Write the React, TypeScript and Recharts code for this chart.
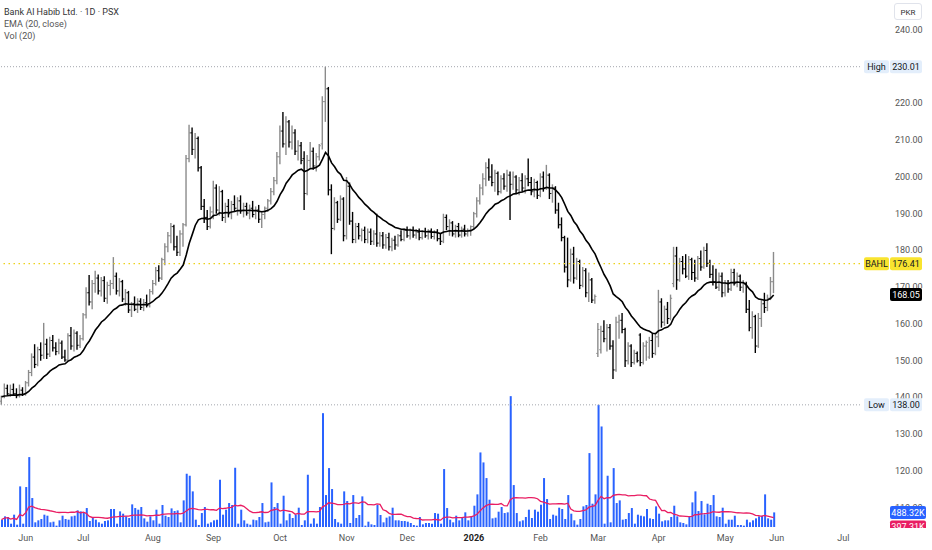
import React from "react";
import { ComposedChart, Bar, Line, XAxis, YAxis, ReferenceLine } from "recharts";

type Ohlc = [number, number, number, number]; // open, high, low, close

const FONT = "Roboto, 'Liberation Sans', sans-serif";

// daily bars, one array per month
const may25: Ohlc[] = [
  [139.0, 140.5, 138.0, 140.2], [140.2, 143.8, 139.8, 142.5], [142.5, 143.5, 140.5, 141.0], [141.0, 143.5, 140.2, 142.2],
  [142.2, 143.8, 140.5, 141.0], [141.0, 142.5, 139.8, 140.5], [140.5, 143.5, 140.0, 142.0], [142.0, 142.8, 140.4, 140.8],
];
const jun25: Ohlc[] = [
  [140.8, 144.5, 140.5, 144.0], [144.0, 147.5, 143.0, 146.8], [146.8, 152.0, 145.8, 151.0], [151.0, 154.5, 148.0, 149.0],
  [149.0, 153.8, 148.5, 153.0], [153.0, 155.0, 150.0, 151.5], [151.5, 160.3, 150.5, 154.5], [154.5, 156.0, 150.5, 151.8],
  [151.8, 156.5, 151.0, 155.5], [155.5, 157.0, 152.5, 153.5], [153.5, 155.0, 151.5, 152.5], [152.5, 156.0, 151.8, 154.8],
  [154.8, 155.5, 150.5, 151.0], [151.0, 153.0, 149.7, 150.2], [150.2, 157.5, 150.0, 156.8], [156.8, 159.2, 153.0, 154.0],
  [154.0, 158.5, 152.5, 157.5], [157.5, 158.0, 153.0, 154.2], [154.2, 157.0, 153.5, 156.0],
];
const jul25: Ohlc[] = [
  [156.0, 163.0, 155.5, 162.5], [162.5, 170.0, 161.5, 168.5], [168.5, 173.3, 165.0, 166.0], [166.0, 172.0, 164.0, 171.0],
  [171.0, 174.5, 168.5, 172.5], [172.5, 173.5, 168.0, 169.0], [169.0, 172.8, 167.5, 171.8], [171.8, 173.0, 166.0, 167.0],
  [167.0, 171.5, 165.5, 170.5], [170.5, 172.0, 167.8, 171.0], [171.0, 178.2, 169.5, 173.0], [173.0, 174.0, 168.0, 169.0],
  [169.0, 172.5, 167.5, 171.5], [171.5, 172.0, 166.0, 166.8], [166.8, 169.5, 165.0, 168.5], [168.5, 169.0, 163.0, 163.8],
  [163.8, 166.0, 161.9, 165.5], [165.5, 167.5, 163.5, 164.0], [164.0, 167.0, 163.0, 166.2], [166.2, 167.0, 163.8, 164.5],
  [164.5, 166.8, 163.5, 165.8], [165.8, 168.0, 164.5, 165.0], [165.0, 169.5, 164.5, 168.8],
];
const aug25: Ohlc[] = [
  [168.8, 172.0, 168.0, 171.0], [171.0, 175.5, 170.5, 174.5], [174.5, 176.0, 171.5, 172.5], [172.5, 178.0, 172.0, 177.5],
  [177.5, 182.0, 176.0, 181.0], [181.0, 185.0, 179.5, 184.0], [184.0, 187.5, 182.0, 186.5], [186.5, 187.0, 180.0, 181.0],
  [181.0, 184.0, 178.5, 179.5], [179.5, 185.5, 178.5, 184.5], [184.5, 187.5, 181.0, 187.0], [187.0, 206.0, 186.5, 205.0],
  [205.0, 214.2, 204.0, 212.0], [212.0, 213.5, 206.0, 207.5], [207.5, 212.0, 205.0, 210.5], [210.5, 211.0, 201.5, 202.5],
  [202.5, 203.0, 191.0, 192.0], [192.0, 194.0, 187.5, 189.0], [189.0, 191.0, 185.6, 186.5], [186.5, 192.0, 186.0, 190.5],
];
const sep25: Ohlc[] = [
  [190.5, 199.0, 188.5, 197.0], [197.0, 198.0, 190.0, 191.0], [191.0, 197.5, 189.5, 196.0], [196.0, 196.5, 188.0, 189.0],
  [189.0, 193.0, 187.5, 192.0], [192.0, 194.0, 189.0, 190.0], [190.0, 193.5, 188.5, 192.5], [192.5, 195.0, 190.5, 191.5],
  [191.5, 194.5, 189.5, 193.5], [193.5, 195.0, 190.0, 190.8], [190.8, 193.0, 189.0, 192.0], [192.0, 193.0, 189.5, 190.2],
  [190.2, 192.5, 188.5, 191.5], [191.5, 193.5, 189.0, 189.8], [189.8, 192.0, 188.5, 191.0], [191.0, 192.4, 187.5, 188.5],
  [188.5, 190.5, 186.1, 189.8], [189.8, 192.0, 188.5, 191.5], [191.5, 194.0, 190.5, 193.5], [193.5, 197.0, 192.5, 196.0],
  [196.0, 200.0, 195.0, 199.0], [199.0, 206.8, 198.0, 205.5],
];
const oct25: Ohlc[] = [
  [205.5, 214.0, 203.5, 212.5], [212.5, 217.7, 208.0, 209.0], [209.0, 216.5, 206.0, 215.0], [215.0, 215.5, 208.0, 209.5],
  [209.5, 214.0, 207.5, 212.0], [212.0, 213.0, 206.0, 207.0], [207.0, 210.0, 204.5, 208.5], [208.5, 209.5, 203.5, 204.5],
  [205.0, 207.0, 191.0, 195.5], [195.5, 206.0, 195.0, 204.5], [204.5, 209.5, 202.5, 207.0], [207.0, 208.0, 202.0, 203.0],
  [203.0, 206.5, 201.5, 205.5], [205.5, 209.0, 204.5, 208.5], [209.0, 222.0, 207.5, 220.5], [220.5, 230.01, 215.0, 224.0],
  [224.0, 224.5, 195.0, 196.5], [196.5, 198.0, 179.0, 186.0], [186.0, 194.5, 185.5, 193.0], [193.0, 193.5, 187.5, 188.5],
  [188.5, 195.0, 188.0, 194.0], [194.0, 194.5, 182.5, 184.0],
];
const nov25: Ohlc[] = [
  [184.0, 200.0, 183.0, 197.5], [197.5, 198.5, 187.0, 188.0], [188.0, 190.5, 182.0, 183.0], [183.0, 187.5, 182.0, 186.5],
  [186.5, 187.5, 183.0, 184.0], [184.0, 186.0, 182.5, 185.5], [185.5, 186.5, 182.0, 183.0], [183.0, 186.0, 182.0, 185.0],
  [185.0, 186.0, 181.5, 182.5], [182.5, 185.5, 181.5, 184.5], [184.5, 190.0, 181.0, 182.0], [182.0, 185.0, 181.0, 184.0],
  [184.0, 185.0, 180.5, 181.5], [181.5, 184.5, 180.5, 183.5], [183.5, 184.8, 180.0, 181.0], [181.0, 183.5, 179.8, 182.8],
  [182.8, 184.0, 180.2, 181.5], [181.5, 184.5, 181.0, 184.0], [184.0, 185.5, 182.5, 183.0], [183.0, 186.0, 182.5, 185.5],
];
const dec25: Ohlc[] = [
  [185.5, 186.5, 183.5, 184.0], [184.0, 186.0, 183.0, 185.5], [185.5, 186.5, 183.5, 184.2], [184.2, 185.8, 183.2, 185.0],
  [185.0, 186.0, 182.8, 183.5], [183.5, 185.5, 183.0, 185.2], [185.2, 186.2, 183.5, 184.0], [184.0, 185.8, 183.0, 185.3],
  [185.3, 186.0, 183.2, 183.8], [183.8, 185.5, 183.0, 185.0], [185.0, 185.8, 182.5, 183.2], [183.2, 184.5, 181.5, 182.5],
  [182.5, 190.0, 182.0, 189.0], [189.0, 189.8, 185.5, 186.5], [186.5, 188.5, 184.0, 187.5], [187.5, 188.0, 183.8, 184.5],
  [184.5, 187.0, 183.5, 186.5], [186.5, 187.5, 183.6, 184.2], [184.2, 186.5, 183.5, 185.8], [185.8, 187.0, 183.8, 184.5],
  [184.5, 186.0, 183.8, 185.5], [185.5, 186.8, 184.0, 186.5],
];
const jan26: Ohlc[] = [
  [186.5, 190.5, 186.0, 190.0], [190.0, 194.5, 189.0, 193.5], [193.5, 198.0, 192.5, 197.0], [197.0, 201.0, 195.0, 199.5],
  [199.5, 204.0, 197.5, 202.5], [202.5, 205.0, 199.0, 200.0], [200.0, 203.5, 197.5, 198.5], [198.5, 202.0, 196.0, 201.0],
  [201.0, 201.5, 195.0, 196.0], [196.0, 200.5, 195.5, 199.5], [199.5, 201.0, 196.5, 197.5], [197.5, 202.0, 196.0, 200.5],
  [200.5, 201.5, 188.3, 198.0], [198.0, 201.5, 196.5, 200.0], [200.0, 200.5, 195.5, 196.5], [196.5, 200.0, 195.0, 199.0],
  [199.0, 201.0, 196.0, 197.0], [197.0, 200.5, 195.5, 199.5], [199.5, 205.0, 197.5, 198.5], [198.5, 200.0, 195.0, 196.0],
  [196.0, 199.5, 194.5, 198.5], [198.5, 199.0, 194.0, 195.0],
];
const feb26: Ohlc[] = [
  [195.0, 201.0, 194.5, 200.0], [200.0, 201.5, 196.0, 197.0], [197.0, 203.3, 196.5, 200.5], [200.5, 201.0, 194.0, 195.5],
  [195.5, 198.0, 193.0, 197.0], [197.0, 197.5, 190.0, 191.0], [191.0, 193.0, 186.0, 187.0], [187.0, 189.0, 182.5, 183.5],
  [183.5, 184.0, 174.0, 175.5], [175.5, 183.5, 170.0, 172.0], [172.0, 180.5, 171.5, 179.0], [179.0, 181.0, 171.0, 172.5],
  [172.5, 178.0, 172.0, 177.0], [177.0, 177.5, 169.5, 170.5], [170.5, 175.5, 170.0, 174.5], [174.5, 175.2, 167.3, 168.5],
  [168.5, 174.0, 166.0, 172.0], [172.0, 172.5, 165.7, 166.5], [166.5, 168.0, 165.5, 167.5],
];
const mar26: Ohlc[] = [
  [152.0, 160.3, 151.0, 158.5], [153.0, 159.5, 152.0, 158.0], [158.0, 161.0, 155.0, 156.0], [156.0, 160.0, 152.5, 159.0],
  [159.0, 160.0, 153.0, 154.0], [154.0, 155.6, 145.0, 147.5], [147.5, 162.0, 147.0, 160.5], [160.5, 162.5, 156.0, 161.0],
  [161.0, 163.0, 157.5, 158.5], [158.5, 159.0, 148.3, 150.0], [150.0, 155.0, 149.0, 154.0], [154.0, 154.5, 148.3, 149.5],
  [149.5, 153.0, 149.0, 152.0], [152.0, 152.5, 149.5, 150.0], [157.0, 157.5, 148.5, 149.5], [149.5, 155.0, 149.0, 154.0],
  [154.0, 155.5, 150.0, 155.0], [151.0, 156.5, 150.5, 155.5], [155.5, 157.5, 150.8, 152.0], [152.0, 157.5, 151.5, 156.5],
];
const apr26: Ohlc[] = [
  [156.5, 169.3, 153.7, 166.0], [166.0, 167.0, 159.0, 160.5], [160.5, 165.0, 159.5, 164.0], [164.0, 166.0, 160.0, 161.5],
  [161.5, 168.0, 161.0, 167.0], [171.0, 181.0, 170.0, 178.5], [178.5, 181.0, 169.3, 172.0], [172.0, 178.0, 171.5, 177.0],
  [177.0, 178.5, 173.5, 175.0], [175.0, 179.0, 172.5, 173.0], [173.0, 178.5, 172.0, 177.5], [177.5, 178.0, 172.0, 174.0],
  [174.0, 177.5, 171.5, 172.5], [172.5, 178.5, 172.0, 177.8], [177.8, 180.0, 174.5, 175.5], [175.5, 181.0, 175.0, 180.0],
  [180.0, 182.0, 175.5, 176.5], [176.5, 177.5, 172.5, 173.5], [173.5, 176.0, 170.5, 171.5], [171.5, 175.0, 169.5, 170.0],
  [170.0, 174.0, 169.0, 173.0], [173.0, 174.0, 167.3, 168.5],
];
const may26: Ohlc[] = [
  [168.5, 172.0, 167.5, 171.0], [171.0, 172.0, 168.5, 169.5], [169.5, 175.0, 169.0, 174.0], [174.0, 175.0, 170.5, 171.0],
  [171.0, 174.0, 170.0, 173.0], [173.0, 173.5, 169.0, 170.0], [170.0, 172.0, 168.5, 171.0], [171.0, 171.5, 163.0, 164.0],
  [164.0, 166.5, 158.0, 159.0], [159.0, 163.5, 156.0, 162.0], [162.0, 162.5, 152.1, 154.0], [154.0, 163.0, 153.5, 161.5],
  [161.5, 166.5, 159.2, 165.5], [165.5, 168.5, 163.0, 164.5], [164.5, 168.0, 163.5, 167.0], [167.0, 172.8, 166.5, 171.5],
  [171.5, 179.6, 168.4, 176.41],
];

// daily volume in thousands of shares, one array per month
const volMay25 = [245, 356, 334, 111, 412, 78, 1358, 111];
const volJun25 = [1336, 2337, 968, 156, 223, 267, 412, 378, 156, 178, 45, 223, 378, 267, 245, 356, 378, 556, 523];
const volJul25 = [490, 634, 200, 300, 245, 156, 111, 200, 223, 601, 601, 111, 523, 445, 356, 300, 757, 634, 579, 668, 289, 178, 356];
const volAug25 = [223, 579, 111, 735, 378, 334, 623, 534, 556, 156, 890, 1781, 1714, 1191, 245, 67, 467, 668, 111, 156];
const volSep25 = [223, 245, 1580, 412, 579, 801, 735, 1981, 111, 579, 223, 111, 78, 245, 223, 334, 801, 156, 178, 1491, 668, 801];
const volOct25 = [111, 1046, 223, 445, 300, 412, 646, 67, 223, 1747, 111, 289, 111, 668, 3806, 1068, 1970, 1269, 267, 156, 111, 1191];
const volNov25 = [868, 134, 1068, 300, 401, 1024, 45, 178, 89, 67, 735, 401, 156, 312, 356, 646, 223, 223, 200, 200];
const volDec25 = [178, 134, 67, 45, 334, 89, 134, 134, 111, 467, 445, 111, 1937, 634, 245, 156, 378, 223, 300, 490, 223, 334];
const volJan26 = [712, 1091, 2493, 2159, 1636, 913, 289, 312, 512, 668, 467, 490, 4375, 1402, 467, 189, 223, 334, 579, 300, 579, 512];
const volFeb26 = [746, 1636, 935, 267, 412, 378, 646, 601, 267, 1068, 445, 223, 78, 267, 690, 735, 2471, 779, 1091];
const volMar26 = [4085, 3361, 111, 1714, 156, 1970, 801, 890, 245, 267, 467, 634, 111, 412, 378, 356, 601, 289, 267, 690];
const volApr26 = [445, 189, 223, 223, 334, 712, 356, 156, 134, 89, 334, 823, 1191, 534, 868, 423, 779, 735, 1068, 356, 334, 646];
const volMay26 = [111, 245, 245, 378, 67, 67, 45, 245, 156, 223, 289, 356, 378, 1091, 289, 245, 488.32];

const priceMonths = [may25, jun25, jul25, aug25, sep25, oct25, nov25, dec25, jan26, feb26, mar26, apr26, may26];
const volMonths = [volMay25, volJun25, volJul25, volAug25, volSep25, volOct25, volNov25, volDec25, volJan26, volFeb26, volMar26, volApr26, volMay26];
// axis label for the first bar of each month (May 2025 gets none)
const monthLabels = ["", "Jun", "Jul", "Aug", "Sep", "Oct", "Nov", "Dec", "2026", "Feb", "Mar", "Apr", "May"];
const futureLabels = ["Jun", "Jul"];
const futureMonthBars = [0, 22]; // bar offsets after the last bar
const emptySlots = 28; // blank space right of the last bar

const priceTicks = [110, 120, 130, 140, 150, 160, 170, 180, 190, 200, 210, 220, 230, 240];
const lastPrice = 176.41;
const emaLast = 168.05;
const highPrice = 230.01;
const lowPrice = 138.0;
const lastVol = 488.32;
const volMaLast = 397.31;

const PRICE_DOMAIN: [number, number] = [104.76, 248.16];
const VOL_DOMAIN: [number, number] = [0, 17620];
const PLOT_H = 527;

const ohlc = priceMonths.flat();
const vols = volMonths.flat();

const tickLabel: Record<number, string> = {};
let start = 0;
priceMonths.forEach((m, k) => {
  if (monthLabels[k]) tickLabel[start] = monthLabels[k];
  start += m.length;
});
futureLabels.forEach((l, k) => (tickLabel[ohlc.length + futureMonthBars[k]] = l));
const tickIdx = Object.keys(tickLabel).map(Number);

const alpha = 2 / 21;
let ema = 0;
const rows: any[] = [];
for (let i = 0; i < ohlc.length + emptySlots; i++) {
  if (i >= ohlc.length) {
    rows.push({ i });
    continue;
  }
  const [o, h, l, c] = ohlc[i];
  ema = i === 0 ? c : c * alpha + ema * (1 - alpha);
  const win = vols.slice(Math.max(0, i - 19), i + 1);
  const volMa = win.reduce((a, b) => a + b, 0) / win.length;
  rows.push({ i, o, h, l, c, range: [l, h], ema, vol: vols[i], volMa });
}

// where the right-hand badges sit, so the axis labels under them can be hidden like in the original
const priceY = (p: number) => ((PRICE_DOMAIN[1] - p) / (PRICE_DOMAIN[1] - PRICE_DOMAIN[0])) * PLOT_H;
const volY = (v: number) => PLOT_H * (1 - v / VOL_DOMAIN[1]);
const badgeCenters = [priceY(highPrice), priceY(lowPrice), priceY(lastPrice), priceY(emaLast), volY(lastVol)];

const OhlcShape = (props: any) => {
  const { x, y, width, height, payload } = props;
  if (!payload || payload.h == null) return null;
  const { o, h, l, c } = payload;
  const top = Math.min(y, y + height);
  const bot = Math.max(y, y + height);
  const span = h - l || 1;
  const py = (v: number) => top + ((h - v) / span) * (bot - top);
  const cx = x + width / 2;
  const color = c >= o ? "#8b8b8b" : "#000000";
  return (
    <g>
      <line x1={cx} x2={cx} y1={top} y2={Math.max(bot, top + 1)} stroke={color} strokeWidth={1.4} />
      <line x1={cx - 1.6} x2={cx} y1={py(o)} y2={py(o)} stroke={color} strokeWidth={1} />
      <line x1={cx} x2={cx + 1.6} y1={py(c)} y2={py(c)} stroke={color} strokeWidth={1} />
    </g>
  );
};

const DateTick = (props: any) => {
  const { x, y, payload } = props;
  const label = tickLabel[payload.value] ?? "";
  return (
    <text x={x} y={y} dy="0.71em" textAnchor="middle" fontSize={9} fontFamily={FONT}
      fill={label === "2026" ? "#222" : "#555"} fontWeight={label === "2026" ? 700 : 400}>
      {label}
    </text>
  );
};

const PriceTick = (props: any) => {
  const { x, y, payload } = props;
  const near = badgeCenters.find((c) => Math.abs(c - y) < 12);
  if (near !== undefined && Math.abs(near - y) < 4) return null;
  const text = (
    <text x={x + 27} y={y} dy={3} fontSize={9} fontFamily={FONT} fill="#555">
      {payload.value.toFixed(2)}
    </text>
  );
  if (near === undefined) return text;
  const id = `tickclip-${payload.value}`;
  return (
    <g>
      <defs>
        <clipPath id={id}>
          <rect x={x} y={y - 12} width={70} height={Math.max(0, near - 6.5 - (y - 12))} />
        </clipPath>
      </defs>
      <g clipPath={`url(#${id})`}>{text}</g>
    </g>
  );
};

const Badge = (props: any) => {
  const { viewBox, name, value, bg, fg, w = 32, dy = 0, clip = false } = props;
  if (!viewBox) return null;
  const cy = viewBox.y + dy;
  const x0 = viewBox.x + viewBox.width;
  const hgt = 13;
  const body = (
    <g>
      {name ? (
        <g>
          <rect x={x0 + 4} y={cy - hgt / 2} width={25} height={hgt} rx={2} fill={bg} />
          <text x={x0 + 16.5} y={cy} dy={3.2} textAnchor="middle" fontSize={9} fontFamily={FONT} fill={fg}>{name}</text>
        </g>
      ) : null}
      <rect x={x0 + 30} y={cy - hgt / 2} width={w} height={hgt} rx={2} fill={bg} />
      <text x={x0 + 30 + w / 2} y={cy} dy={3.2} textAnchor="middle" fontSize={9} fontFamily={FONT} fill={fg}>{value}</text>
    </g>
  );
  if (!clip) return body;
  return (
    <g>
      <defs>
        <clipPath id="volBadgeClip">
          <rect x={x0} y={0} width={80} height={PLOT_H + 1} />
        </clipPath>
      </defs>
      <g clipPath="url(#volBadgeClip)">{body}</g>
    </g>
  );
};

export default function App() {
  return (
    <div style={{ position: "absolute", left: 0, top: 0, width: 932, height: 550, background: "#ffffff", fontFamily: FONT }}>
      <ComposedChart width={932} height={550} data={rows} margin={{ top: 0, right: 0, bottom: 0, left: 0 }}>
        <XAxis xAxisId="x1" dataKey="i" type="category" ticks={tickIdx} interval={0} tick={<DateTick />}
          axisLine={false} tickLine={false} height={550 - PLOT_H} />
        <XAxis xAxisId="x2" dataKey="i" type="category" hide />
        <YAxis yAxisId="p" orientation="right" width={72} domain={PRICE_DOMAIN} allowDataOverflow
          ticks={priceTicks} interval={0} tick={<PriceTick />} axisLine={false} tickLine={false} />
        <YAxis yAxisId="v" hide domain={VOL_DOMAIN} allowDataOverflow />

        <ReferenceLine xAxisId="x1" yAxisId="p" y={highPrice} stroke="#a3a6ad" strokeDasharray="1 2"
          label={(p: any) => <Badge viewBox={p.viewBox} name="High" value={highPrice.toFixed(2)} bg="#e3eefb" fg="#131722" />} />
        <ReferenceLine xAxisId="x1" yAxisId="p" y={lowPrice} stroke="#a3a6ad" strokeDasharray="1 2"
          label={(p: any) => <Badge viewBox={p.viewBox} name="Low" value={lowPrice.toFixed(2)} bg="#e3eefb" fg="#131722" />} />
        <ReferenceLine xAxisId="x1" yAxisId="p" y={lastPrice} stroke="#ecd21a" strokeWidth={1.2} strokeDasharray="1.5 3.5"
          label={(p: any) => <Badge viewBox={p.viewBox} name="BAHL" value={lastPrice.toFixed(2)} bg="#f9e42f" fg="#131722" />} />

        <Bar xAxisId="x2" yAxisId="v" dataKey="vol" fill="#2962ff" barSize={2} isAnimationActive={false} />
        <Line xAxisId="x2" yAxisId="v" dataKey="volMa" stroke="#e91e63" strokeWidth={1.3} dot={false}
          activeDot={false} isAnimationActive={false} />
        <Bar xAxisId="x1" yAxisId="p" dataKey="range" shape={OhlcShape} isAnimationActive={false} />
        <Line xAxisId="x1" yAxisId="p" dataKey="ema" stroke="#000000" strokeWidth={1.6} dot={false}
          activeDot={false} isAnimationActive={false} />

        <ReferenceLine xAxisId="x1" yAxisId="p" y={emaLast} strokeOpacity={0}
          label={(p: any) => <Badge viewBox={p.viewBox} value={emaLast.toFixed(2)} bg="#000000" fg="#ffffff" />} />
        <ReferenceLine xAxisId="x2" yAxisId="v" y={lastVol} strokeOpacity={0}
          label={(p: any) => <Badge viewBox={p.viewBox} value={`${lastVol.toFixed(2)}K`} bg="#2962ff" fg="#ffffff" w={36} />} />
        <ReferenceLine xAxisId="x2" yAxisId="v" y={volMaLast} strokeOpacity={0}
          label={(p: any) => <Badge viewBox={p.viewBox} value={`${volMaLast.toFixed(2)}K`} bg="#e91e63" fg="#ffffff" w={36} dy={12} clip />} />
      </ComposedChart>

      <div style={{ position: "absolute", left: 4, top: 6, fontSize: 9, lineHeight: "12px", color: "#333" }}>
        <div>Bank Al Habib Ltd. · 1D · PSX</div>
        <div style={{ color: "#555" }}>EMA (20, close)</div>
        <div style={{ color: "#555" }}>Vol (20)</div>
      </div>
      <div style={{ position: "absolute", left: 894, top: 3, width: 28, height: 17, border: "1px solid #e0e3eb",
        borderRadius: 3, fontSize: 8, lineHeight: "17px", textAlign: "center", color: "#333", boxSizing: "border-box" }}>
        PKR
      </div>
    </div>
  );
}
